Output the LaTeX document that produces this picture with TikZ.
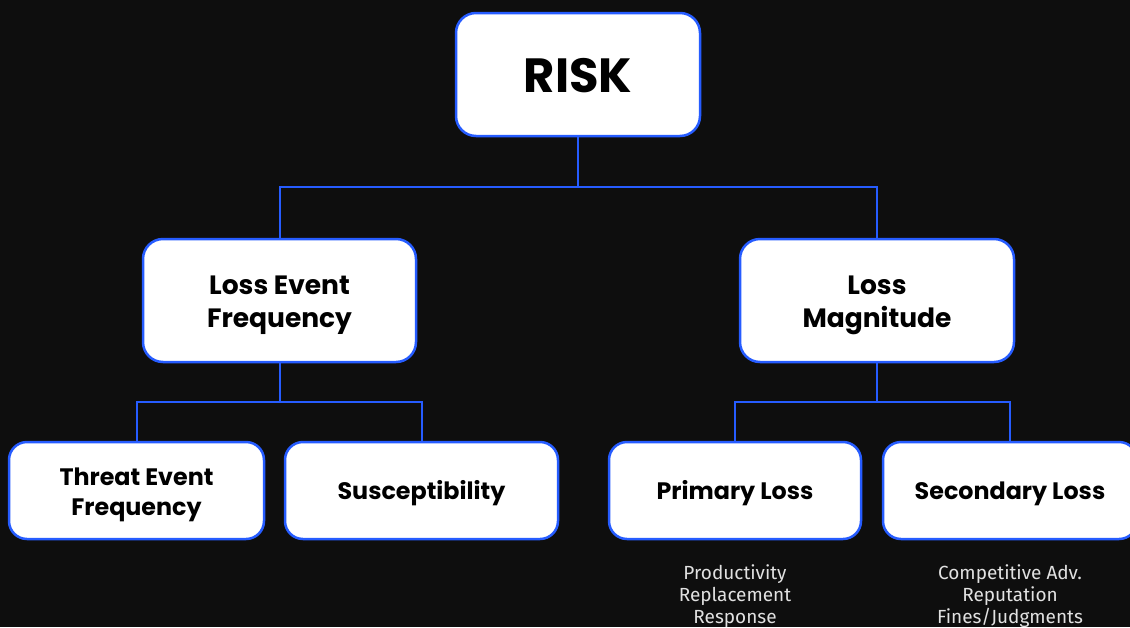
\documentclass[tikz,border=0pt]{standalone}
\usepackage{fontspec}
\setmainfont{Poppins}
\newfontfamily\descfont{Fira Sans}
\definecolor{bg}{RGB}{14,14,14}
\definecolor{edge}{RGB}{38,92,255}
\definecolor{desctext}{RGB}{225,225,225}
\newcommand\twolines[2]{\begin{tabular}[b]{@{}c@{}}#1\\#2\end{tabular}}
\begin{document}
\begin{tikzpicture}[x=1pt,y=-1pt,
  box/.style={draw=edge, line width=2.5pt, fill=white, rounded corners=20pt,
    inner sep=0pt, text=black, text depth=0pt},
  mid/.style={box, minimum height=123pt, font=\bfseries\fontsize{26.5}{33}\selectfont},
  small/.style={box, rounded corners=18pt, minimum height=97pt,
    font=\bfseries\fontsize{23.8}{29.5}\selectfont},
  conn/.style={draw=edge, line width=2pt},
  desc/.style={text=desctext, align=center, inner sep=0pt,
    font=\descfont\fontsize{19}{22}\selectfont}]
\path[fill=bg] (0,0) rectangle (1130,627);
\useasboundingbox (0,0) rectangle (1130,627);
\clip (0,0) rectangle (1130,627);

\node[box, minimum width=244pt, minimum height=123pt, text height=35pt,
  font=\bfseries\fontsize{48}{50}\selectfont] (risk) at (578,74.5) {RISK};
\node[mid, minimum width=273pt, text height=53.6pt] (lef) at (279.5,300.5) {\twolines{Loss Event}{Frequency}};
\node[mid, minimum width=274pt, text height=53.6pt] (lm) at (877,300.5) {\twolines{Loss}{Magnitude}};

\node[small, minimum width=255pt, text height=49pt] (tef) at (136.5,490.5) {\twolines{Threat Event}{Frequency}};
\node[small, minimum width=273pt, text height=17pt] (sus) at (421.5,490.5) {Susceptibility};
\node[small, minimum width=252pt, text height=18pt] (pl) at (735,490.5) {Primary Loss};
\node[small, minimum width=254pt, text height=18pt] (sl) at (1010,490.5) {Secondary Loss};

\coordinate (j1) at (578,187);
\coordinate (j2) at (279.5,402);
\coordinate (j3) at (877,402);
\draw[conn] (risk.south) -- (j1);
\draw[conn] (lef.north) |- (j1) -| (lm.north);
\draw[conn] (lef.south) -- (j2);
\draw[conn] (tef.north) |- (j2) -| (sus.north);
\draw[conn] (lm.south) -- (j3);
\draw[conn] (pl.north) |- (j3) -| (sl.north);

\node[desc, anchor=north] (pld) at (735,564) {Productivity\\Replacement\\Response};
\node[desc, anchor=north] (sld) at (1010,564) {Competitive Adv.\\Reputation\\Fines/Judgments};
\end{tikzpicture}
\end{document}
